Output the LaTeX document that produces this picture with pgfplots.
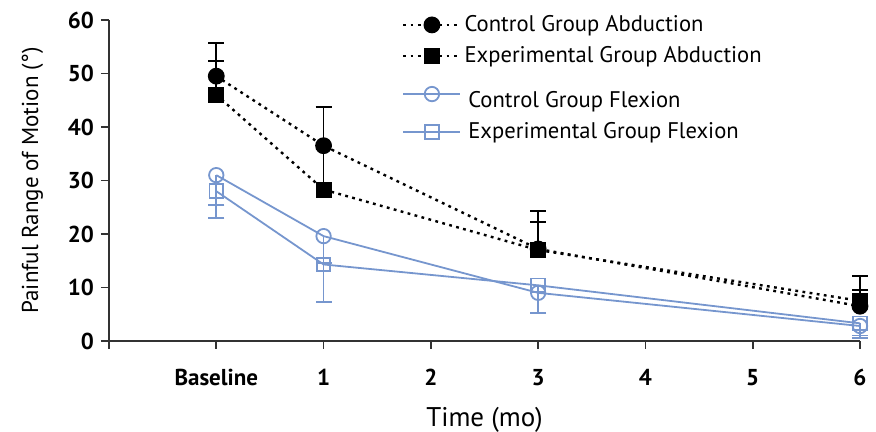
\documentclass[border=0pt]{standalone}
\usepackage{pgfplots}
\pgfplotsset{compat=1.18}
\usepackage{fontspec}
\setmainfont{PT Sans}
\definecolor{flexblue}{RGB}{118,150,206}
\definecolor{axisgray}{RGB}{50,50,50}
\begin{document}
\begin{tikzpicture}
\begin{axis}[
    scale only axis,
    width=375.5pt, height=160.5pt,
    xmin=-1, xmax=6, ymin=0, ymax=60,
    axis lines*=left,
    axis line style={-, line width=0.9pt, axisgray},
    tick align=outside,
    major tick length=4pt,
    tick style={line width=0.9pt, axisgray},
    xtick={-1,0,1,2,3,4,5,6},
    xticklabels={,Baseline,1,2,3,4,5,6},
    ytick={0,10,...,60},
    ticklabel style={font=\fontsize{11.5}{14}\selectfont\bfseries},
    xticklabel style={yshift=-6.5pt},
    /pgf/number format/assume math mode=true,
    xlabel={Time (mo)},
    ylabel={Painful Range of Motion (°)},
    ylabel shift=5.5pt,
    xlabel style={yshift=-4pt, font=\fontsize{13.5}{15}\selectfont},
    ylabel style={font=\fontsize{11.5}{13}\selectfont},
    clip=false,
    legend style={at={(0.39,1.025)}, anchor=north west, draw=none, fill=none,
        font=\fontsize{11.3}{13}\selectfont, row sep=3pt, inner sep=0pt,
        nodes={inner sep=1.5pt}},
    legend cell align=left,
    legend image code/.code={\draw[mark repeat=2,mark phase=2] plot coordinates {(0cm,0cm) (0.5cm,0cm) (1cm,0cm)};},
]
\coordinate (bl) at (rel axis cs:0,0);
\coordinate (tr) at (rel axis cs:1,1);
% control group abduction
\addplot[black, line width=1.2pt, dash pattern=on 1.4pt off 2.2pt, mark=*, mark size=3.6pt,
    mark options={solid},
    error bars/.cd, y dir=plus, y explicit,
    error bar style={solid, line width=0.8pt}, error mark options={rotate=90, mark size=4pt, line width=0.8pt}]
coordinates {
    (0,49.5) +- (0,6.2)
    (1,36.5) +- (0,7.2)
    (3,17.2) +- (0,7.1)
    (6,6.5) +- (0,5.6)
};
\addlegendentry{Control Group Abduction}
% experimental group abduction
\addplot[black, line width=1.2pt, dash pattern=on 1.4pt off 2.2pt, mark=square*, mark size=3.4pt,
    mark options={solid},
    error bars/.cd, y dir=plus, y explicit,
    error bar style={solid, line width=0.8pt}, error mark options={rotate=90, mark size=4pt, line width=0.8pt}]
coordinates {
    (0,46.0) +- (0,6.3)
    (1,28.3) +- (0,7.5)
    (3,17.0) +- (0,5.2)
    (6,7.5) +- (0,2.0)
};
\addlegendentry{Experimental Group Abduction}
% control group flexion
\addplot[flexblue, line width=0.9pt, mark=o, mark size=3.6pt,
    mark options={fill=white},
    error bars/.cd, y dir=minus, y explicit,
    error bar style={line width=0.8pt}, error mark options={rotate=90, mark size=4pt, line width=0.8pt}]
coordinates {
    (0,31.0) +- (0,5.6)
    (1,19.6) +- (0,5.0)
    (3,9.0) +- (0,3.8)
    (6,2.8) +- (0,1.8)
};
\addlegendentry{\rule{0pt}{15pt}\,Control Group Flexion}
% experimental group flexion
\addplot[flexblue, line width=0.9pt, mark=square, mark size=3.4pt,
    mark options={fill=none},
    error bars/.cd, y dir=minus, y explicit,
    error bar style={line width=0.8pt}, error mark options={rotate=90, mark size=4pt, line width=0.8pt}]
coordinates {
    (0,28.0) +- (0,5.0)
    (1,14.3) +- (0,7.0)
    (3,10.4) +- (0,5.2)
    (6,3.3) +- (0,2.7)
};
\addlegendentry{\,Experimental Group Flexion}
\end{axis}
\pgfresetboundingbox
\path ([xshift=-54.5pt,yshift=-45.5pt]bl) rectangle ([xshift=8pt,yshift=10pt]tr);
\end{tikzpicture}
\end{document}
